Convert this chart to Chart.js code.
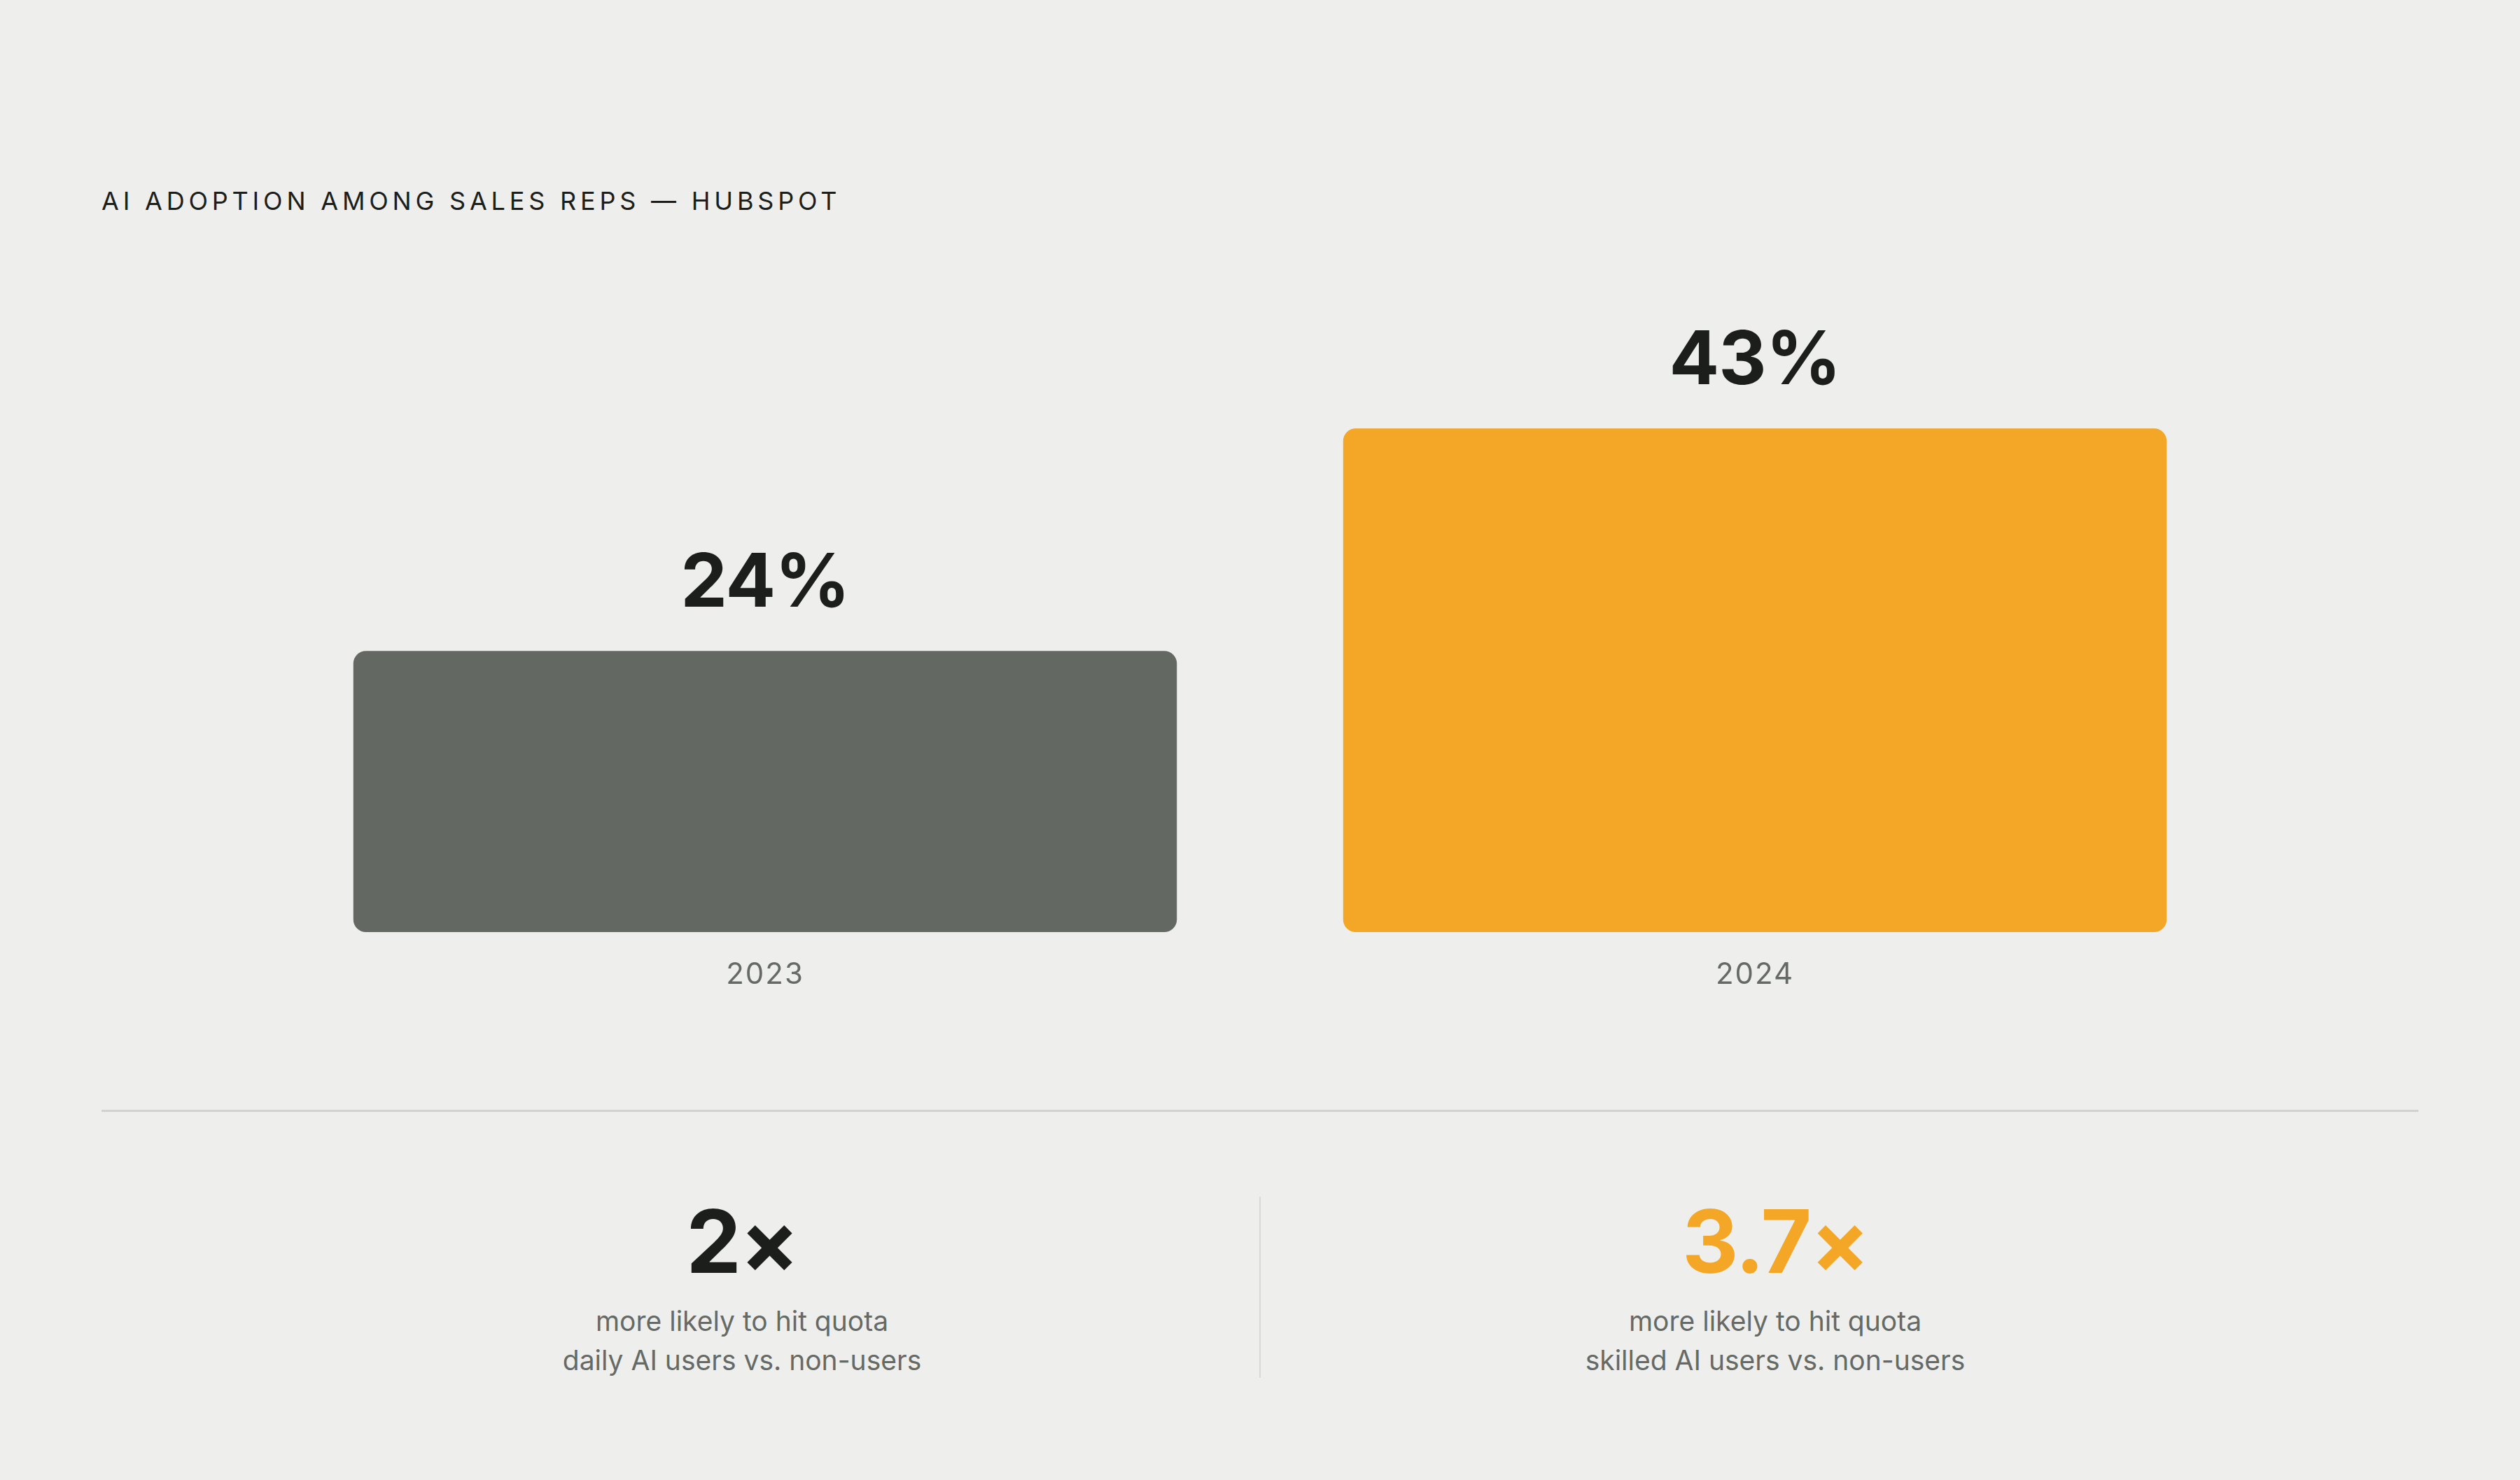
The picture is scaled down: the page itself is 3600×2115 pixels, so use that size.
<!DOCTYPE html>
<html>
<head>
<meta charset="utf-8">
<script src="https://cdn.jsdelivr.net/npm/chart.js@4.4.1/dist/chart.umd.min.js"></script>
<style>
  html, body { margin:0; padding:0; background:#eeefec; }
  body { width:3600px; height:2115px; position:relative; overflow:hidden; font-family: Inter, "Noto Sans", sans-serif; }
  #title { position:absolute; left:145px; top:269px; font-size:36px; line-height:1; letter-spacing:5.8px; color:#1c1e1b; font-weight:400; white-space:nowrap; }
  #chartWrap { position:absolute; left:0; top:0; width:3600px; height:1480px; }
  #divider { position:absolute; left:145px; top:1586px; width:3310px; height:3px; background:#d2d3cf; }
  #vline { position:absolute; left:1799px; top:1710px; width:2px; height:259px; background:#d8d9d5; }
  .stat { position:absolute; width:1000px; text-align:center; }
  .stat .big { font-size:125px; font-weight:700; line-height:1; letter-spacing:-2px; }
  .stat .sub { font-size:39px; line-height:56px; color:#666a66; }
</style>
</head>
<body>
<div id="title">AI ADOPTION AMONG SALES REPS — HUBSPOT</div>
<div id="chartWrap"><canvas id="c" width="3600" height="1480"></canvas></div>
<div id="divider"></div>
<div id="vline"></div>
<div id="stats"></div>
<script>
const categories = ['2023', '2024'];
const adoption = [24, 43];
const statValues = ['2×', '3.7×'];
const statLine1 = ['more likely to hit quota', 'more likely to hit quota'];
const statLine2 = ['daily AI users vs. non-users', 'skilled AI users vs. non-users'];

const barColors = ['#646863', '#f4a626'];
const statColors = ['#1c1e1b', '#f4a626'];
const statCenters = [1060, 2536];

const valueLabels = {
  id: 'valueLabels',
  beforeDraw(chart) { chart.ctx.letterSpacing = '2px'; },
  afterDatasetsDraw(chart) {
    const ctx = chart.ctx;
    ctx.save();
    ctx.letterSpacing = '-1px';
    ctx.font = '700 106px Inter';
    ctx.fillStyle = '#1c1e1b';
    ctx.textAlign = 'center';
    ctx.textBaseline = 'alphabetic';
    chart.getDatasetMeta(0).data.forEach((bar, i) => {
      ctx.fillText(adoption[i] + '%', bar.x, bar.y - 63);
    });
    ctx.restore();
  }
};

new Chart(document.getElementById('c'), {
  type: 'bar',
  data: {
    labels: categories,
    datasets: [{
      data: adoption,
      backgroundColor: barColors,
      borderRadius: 18,
      borderSkipped: false,
      categoryPercentage: 1,
      barPercentage: 0.832
    }]
  },
  options: {
    responsive: false,
    animation: false,
    devicePixelRatio: 1,
    layout: { padding: { left: 386, right: 386, top: 495, bottom: 48 } },
    plugins: { legend: { display: false }, tooltip: { enabled: false }, title: { display: false } },
    scales: {
      y: { display: false, min: 0, max: 50 },
      x: {
        grid: { display: false, drawTicks: false },
        border: { display: false },
        ticks: { color: '#666a66', font: { family: 'Inter', size: 42 }, padding: 36, maxRotation: 0 },
        afterFit(scale) { scale.height = 100; }
      }
    }
  },
  plugins: [valueLabels]
});

const stats = document.getElementById('stats');
statValues.forEach((v, i) => {
  const big = document.createElement('div');
  big.className = 'stat';
  big.style.left = (statCenters[i] - 500) + 'px';
  big.style.top = '1711px';
  big.innerHTML = '<div class="big" style="color:' + statColors[i] + '">' + v + '</div>';
  stats.appendChild(big);
  const sub = document.createElement('div');
  sub.className = 'stat';
  sub.style.left = (statCenters[i] - 500) + 'px';
  sub.style.top = '1860px';
  sub.innerHTML = '<div class="sub">' + statLine1[i] + '<br>' + statLine2[i] + '</div>';
  stats.appendChild(sub);
});
</script>
</body>
</html>
